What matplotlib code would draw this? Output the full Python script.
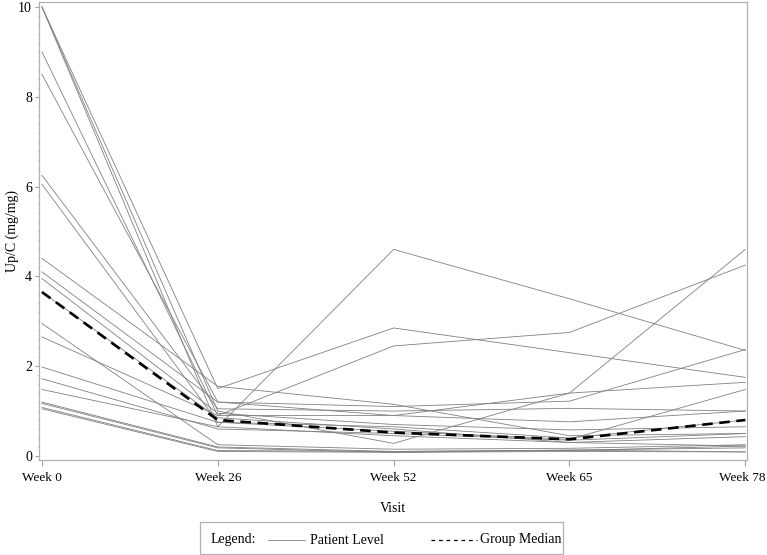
import matplotlib
matplotlib.use("Agg")
import matplotlib.pyplot as plt
from matplotlib.lines import Line2D
from matplotlib.patches import Rectangle
from matplotlib.ticker import MultipleLocator
from matplotlib.transforms import ScaledTranslation

plt.rcParams['font.family'] = ['Liberation Serif', 'DejaVu Serif']

# Visits (evenly spaced categories)
visits = ['Week 0', 'Week 26', 'Week 52', 'Week 65', 'Week 78']

# Up/C (mg/mg) per patient
patients = [
    [10.0, 0.65, 4.60, 3.50, 2.35],
    [10.0, 1.50, 2.85, 2.30, 1.75],
    [10.0, 1.00, 0.28, 1.40, 4.60],
    [9.00, 0.90, 2.45, 2.75, 4.25],
    [8.50, 1.20, 1.10, 1.22, 2.37],
    [6.25, 1.05, 1.00, 1.06, 1.00],
    [6.05, 0.75, 0.55, 0.37, 1.48],
    [4.40, 1.55, 1.15, 0.45, 0.50],
    [4.10, 1.20, 0.90, 0.76, 1.00],
    [3.95, 0.95, 0.70, 0.58, 0.65],
    [3.65, 0.85, 0.60, 0.30, 0.43],
    [2.95, 0.25, 0.15, 0.17, 0.25],
    [2.65, 0.90, 0.90, 1.40, 1.64],
    [1.98, 0.75, 0.65, 0.40, 0.80],
    [1.72, 0.60, 0.50, 0.35, 0.50],
    [1.48, 0.65, 0.45, 0.30, 0.22],
    [1.20, 0.20, 0.10, 0.13, 0.18],
    [1.17, 0.18, 0.08, 0.10, 0.09],
    [1.08, 0.12, 0.10, 0.12, 0.22],
    [1.05, 0.10, 0.08, 0.13, 0.09],
]

# Group median
median = [3.65, 0.80, 0.52, 0.37, 0.80]

FS = 9.5

fig = plt.figure(figsize=(7.67, 5.55), dpi=100)
ax = fig.add_axes([0.0508, 0.1712, 0.9232, 0.8252])

x = list(range(len(visits)))
for p in patients:
    ax.plot(x, p, color='#808080', lw=0.6)
ax.plot(x, median, color='black', lw=1.9, ls=(0, (4, 2.5)))

ax.set_xlim(-0.017, 4.01)
ax.set_ylim(-0.09, 10.11)
ax.set_xticks(x)
ax.set_xticklabels(visits, fontsize=FS)
ax.set_yticks([0, 2, 4, 6, 8, 10])
ax.tick_params(axis='y', labelsize=FS + 0.5, length=3, color='#a0a0a0', pad=2)
ax.tick_params(axis='x', length=4, color='#a0a0a0', pad=5)
ax.yaxis.set_minor_locator(MultipleLocator(0.2))
ax.tick_params(axis='y', which='minor', length=1.5, color='#d0d0d0')

# nudge the last x label left so it fits inside the figure
last = ax.xaxis.get_major_ticks()[-1].label1
last.set_transform(last.get_transform() + ScaledTranslation(-3 / 100, 0, fig.dpi_scale_trans))

for s in ax.spines.values():
    s.set_color('#b0b0b0')
    s.set_linewidth(0.9)

ax.set_xlabel('Visit', fontsize=FS + 0.5)
ax.xaxis.set_label_coords(0.5, -(502 - 460) / 458, transform=ax.transAxes)
ax.set_ylabel('Up/C (mg/mg)', fontsize=FS + 0.5, va='center')
ax.yaxis.set_label_coords(-(39 - 12) / 708, 0.5)

# legend box at the bottom
fig.add_artist(Rectangle((200 / 767, 1 - 554 / 555), 363 / 767, 32 / 555,
                         transform=fig.transFigure, fill=False,
                         edgecolor='#b0b0b0', lw=0.9))
ly = 1 - 540 / 555
fig.text(211 / 767, ly, 'Legend:', fontsize=FS + 0.5, va='center')
fig.add_artist(Line2D([268 / 767, 305 / 767], [ly, ly], transform=fig.transFigure,
                      color='#808080', lw=0.6))
fig.text(310 / 767, ly, 'Patient Level', fontsize=FS + 0.5, va='center')
fig.add_artist(Line2D([431 / 767, 477 / 767], [ly, ly], transform=fig.transFigure,
                      color='black', lw=0.9, ls=(0, (3, 3))))
fig.text(480 / 767, ly, 'Group Median', fontsize=FS + 0.5, va='center')

fig.savefig('out.png', dpi=100)
